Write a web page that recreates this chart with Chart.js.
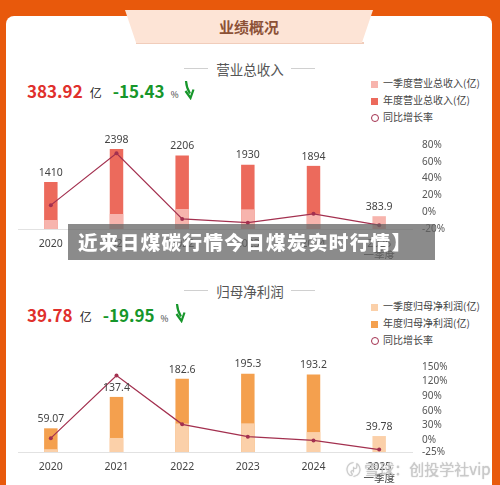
<!DOCTYPE html>
<html>
<head>
<meta charset="utf-8">
<script src="https://cdn.jsdelivr.net/npm/chart.js@4.4.0/dist/chart.umd.min.js"></script>
<style>
  body { margin: 0; width: 500px; height: 485px; overflow: hidden; position: relative;
         background: #e8590c; font-family: "Noto Sans", "Noto Sans CJK SC", sans-serif; }
  .abs { position: absolute; }
  .card { left: 6px; top: 16px; width: 486px; height: 490px; background: #fff; border-radius: 8px; }
  .tab { left: 125px; top: 10px; width: 248px; height: 33px; background: #fde4d6;
         clip-path: polygon(0 0, 100% 0, 95.5% 100%, 4.5% 100%); }
  .tab-shadow { left: 136px; top: 42px; width: 228px; height: 2px; background: #f1cdbb; }
  .tab-text { left: 125px; top: 10px; width: 248px; height: 33px; line-height: 33px; text-align: center;
              font-family: "Noto Sans CJK SC"; font-weight: bold; font-size: 15px; color: #8c5136; }
  .sec { left: 0; width: 500px; text-align: center; font-family: "Noto Sans CJK SC"; font-size: 13.5px; color: #555; }
  .rule { width: 24px; height: 1px; background: #d0d0d0; }
  .big { left: 27px; white-space: nowrap; font-family: "Noto Sans CJK SC"; }
  .big .v { font-size: 17px; font-weight: bold; color: #e0302c; }
  .big .u { font-size: 12px; color: #222; margin: 0 11px 0 7px; }
  .big .g { font-size: 17px; font-weight: bold; color: #16962a; }
  .big .p { font-size: 8.5px; color: #333; margin-left: 6px; }
  .arrow { width: 12px; height: 20px; }
  .legend { left: 371px; font-family: "Noto Sans CJK SC"; font-size: 10px; color: #444; }
  .legend div { height: 17px; line-height: 17px; white-space: nowrap; }
  .legend i { display: inline-block; width: 7px; height: 7px; margin-right: 5px; vertical-align: -0.5px; }
  .legend i.ring { width: 6px; height: 6px; border: 1.5px solid #a3304f; border-radius: 50%; background: #fff; margin-right: 4px; }
  .banner { left: 68px; top: 224px; width: 367px; height: 36px; background: rgba(100,100,100,0.75);
            color: #fff; font-family: "Noto Sans CJK SC"; font-weight: 900; font-size: 19.5px;
            line-height: 36px; padding-left: 10px; box-sizing: border-box; white-space: nowrap; letter-spacing: 1.4px; }
  .wm { left: 346px; top: 458px; font-family: "Noto Sans CJK SC"; font-size: 15px; color: rgba(205,205,205,0.85);
        text-shadow: 0 0 1px rgba(120,120,120,0.6); white-space: nowrap; }
</style>
</head>
<body>
<div class="abs card"></div>
<div class="abs tab-shadow"></div>
<div class="abs tab"></div>
<div class="abs tab-text">业绩概况</div>

<!-- section 1 -->
<div class="abs sec" style="top:59px">营业总收入</div>
<div class="abs rule" style="left:184px;top:68px"></div>
<div class="abs rule" style="left:291px;top:68px"></div>
<div class="abs big" style="top:78px">
  <span class="v">383.92</span><span class="u">亿</span><span class="g">-15.43</span><span class="p">%</span>
</div>
<svg class="abs arrow" style="left:183px;top:80px" viewBox="0 0 12 20">
  <path d="M3 1 Q3.5 8 7 13.5" stroke="#16962a" stroke-width="2.2" fill="none"/>
  <path d="M2.5 11 L7.5 18 L10.5 9.5" stroke="#16962a" stroke-width="2.2" fill="none"/>
</svg>
<div class="abs legend" style="top:74px">
  <div><i style="background:#f7b4ad"></i>一季度营业总收入(亿)</div>
  <div><i style="background:#ec6a5c"></i>年度营业总收入(亿)</div>
  <div><i class="ring"></i>同比增长率</div>
</div>
<canvas id="revChart" class="abs" style="left:6px;top:125px" width="486" height="134"></canvas>

<!-- section 2 -->
<div class="abs sec" style="top:281px">归母净利润</div>
<div class="abs rule" style="left:184px;top:290px"></div>
<div class="abs rule" style="left:291px;top:290px"></div>
<div class="abs big" style="top:302px">
  <span class="v">39.78</span><span class="u">亿</span><span class="g">-19.95</span><span class="p">%</span>
</div>
<svg class="abs arrow" style="left:174px;top:303px" viewBox="0 0 12 20">
  <path d="M3 1 Q3.5 8 7 13.5" stroke="#16962a" stroke-width="2.2" fill="none"/>
  <path d="M2.5 11 L7.5 18 L10.5 9.5" stroke="#16962a" stroke-width="2.2" fill="none"/>
</svg>
<div class="abs legend" style="top:297px">
  <div><i style="background:#fbd0a9"></i>一季度归母净利润(亿)</div>
  <div><i style="background:#f4a04e"></i>年度归母净利润(亿)</div>
  <div><i class="ring"></i>同比增长率</div>
</div>
<canvas id="profitChart" class="abs" style="left:6px;top:347px" width="486" height="138"></canvas>

<div class="abs banner">近来日煤碳行情今日煤炭实时行情】</div>
<div class="abs wm">〄 雪球：创投学社vip</div>

<script>
// categories
const years = ['2020', '2021', '2022', '2023', '2024', ['2025', '一季度']];

// 营业总收入 (亿)
const revenueQ1 = [270, 450, 600, 590, 454, 383.92];
const revenueYear = [1410, 2398, 2206, 1930, 1894, null];
const revenueGrowth = [8.4, 70.1, -8.0, -12.5, -1.9, -15.43];
const revenueTicks = [-20, 0, 20, 40, 60, 80];

// 归母净利润 (亿)
const profitQ1 = [7, 35, 71, 71.5, 49.7, 39.78];
const profitYear = [59.07, 137.4, 182.6, 195.3, 193.2, null];
const profitGrowth = [3.5, 132.6, 32, 6.5, -1.1, -19.95];
const profitTicks = [-25, 0, 30, 60, 90, 120, 150];

const FONT = '"Noto Sans", "Noto Sans CJK SC", sans-serif';

// valeur au-dessus de chaque colonne (annuelle sinon T1)
const valueLabels = {
  id: 'valueLabels',
  afterDatasetsDraw(chart) {
    const ctx = chart.ctx;
    const q1Meta = chart.getDatasetMeta(0);
    const yearMeta = chart.getDatasetMeta(1);
    ctx.save();
    ctx.font = '10.5px ' + FONT;
    ctx.fillStyle = '#444';
    ctx.textAlign = 'center';
    ctx.textBaseline = 'bottom';
    chart.data.labels.forEach((lab, i) => {
      let v = chart.data.datasets[1].data[i];
      let el = yearMeta.data[i];
      if (v == null) {
        v = chart.data.datasets[0].data[i];
        el = q1Meta.data[i];
      }
      ctx.fillText(String(Number(v.toPrecision(4))), el.x, el.y - 4);
    });
    ctx.restore();
  }
};

function makeChart(id, q1, annual, growth, ticks, leftMax, lightColor, darkColor) {
  return new Chart(document.getElementById(id), {
    type: 'bar',
    data: {
      labels: years,
      datasets: [
        { label: 'q1', data: q1, backgroundColor: lightColor, yAxisID: 'y',
          grouped: false, order: 1, categoryPercentage: 1, barPercentage: 0.205 },
        { label: 'year', data: annual, backgroundColor: darkColor, yAxisID: 'y',
          grouped: false, order: 2, categoryPercentage: 1, barPercentage: 0.205 },
        { type: 'line', label: 'growth', data: growth, yAxisID: 'y1', order: 0,
          borderColor: '#a3304f', borderWidth: 1.2, pointRadius: 2,
          pointBackgroundColor: '#a3304f', pointBorderWidth: 0, tension: 0 }
      ]
    },
    options: {
      responsive: false,
      animation: false,
      layout: { padding: { top: 20, left: 12, right: 40, bottom: 0 } },
      plugins: { legend: { display: false }, tooltip: { enabled: false } },
      scales: {
        x: {
          grid: { display: false },
          border: { display: true, color: '#e2e2e2' },
          ticks: { color: '#444', font: { size: 10.5, family: FONT, lineHeight: 1.05 }, padding: 2, autoSkip: false, maxRotation: 0 },
          afterFit: axis => { axis.height = id === 'revChart' ? 30 : 33; }
        },
        y: { display: false, min: 0, max: leftMax },
        y1: {
          position: 'right',
          min: ticks[0], max: ticks[ticks.length - 1],
          grid: { display: false, drawTicks: false },
          border: { display: false },
          afterBuildTicks: axis => { axis.ticks = ticks.map(v => ({ value: v })); },
          afterFit: axis => { axis.width = 40; },
          ticks: { color: '#555', font: { size: 10, family: FONT }, padding: 10, autoSkip: false,
                   callback: v => v + '%' }
        }
      }
    },
    plugins: [valueLabels]
  });
}

makeChart('revChart', revenueQ1, revenueYear, revenueGrowth, revenueTicks, 2520, '#f7b4ad', '#ec6a5c');
makeChart('profitChart', profitQ1, profitYear, profitGrowth, profitTicks, 212, '#fbd0a9', '#f4a04e');
</script>
</body>
</html>
